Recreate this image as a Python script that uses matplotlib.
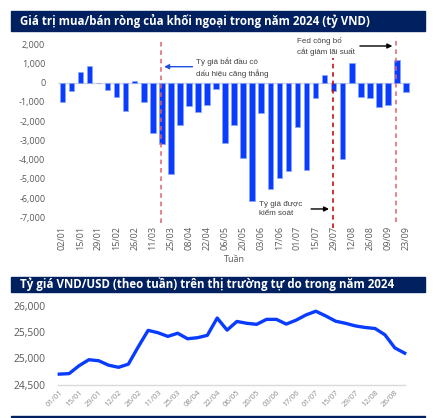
import matplotlib
matplotlib.use('Agg')
import matplotlib.pyplot as plt
from matplotlib.patches import Rectangle

plt.rcParams['font.family'] = ['Open Sans', 'DejaVu Sans']

# ---- data: chart 1 (net buy/sell of foreign investors, bn VND) ----
weeks1 = ['02/01', '08/01', '15/01', '22/01', '29/01', '05/02', '15/02', '19/02',
          '26/02', '04/03', '11/03', '18/03', '25/03', '01/04', '08/04', '15/04',
          '22/04', '29/04', '06/05', '13/05', '20/05', '27/05', '03/06', '10/06',
          '17/06', '24/06', '01/07', '08/07', '15/07', '22/07', '29/07', '05/08',
          '12/08', '19/08', '26/08', '02/09', '09/09', '16/09', '23/09']
net_flow = [-1000, -440, 575, 890, -20, -385, -750, -1480, 100, -1000,
            -2635, -3190, -4750, -2215, -1190, -1535, -1135, -315, -3160, -2180,
            -3910, -6140, -1570, -5550, -4975, -4570, -2320, -4520, -800, 400,
            -420, -3960, 1045, -750, -800, -1240, -1135, 1190, -490]

# ---- data: chart 2 (free market VND/USD rate, weekly) ----
weeks2 = ['01/01', '08/01', '15/01', '22/01', '29/01', '05/02', '12/02', '19/02',
          '26/02', '04/03', '11/03', '18/03', '25/03', '01/04', '08/04', '15/04',
          '22/04', '29/04', '06/05', '13/05', '20/05', '27/05', '03/06', '10/06',
          '17/06', '24/06', '01/07', '08/07', '15/07', '22/07', '29/07', '05/08',
          '12/08', '19/08', '26/08', '02/09']
fx_rate = [24700, 24710, 24860, 24975, 24955, 24870, 24830, 24890, 25220, 25535,
           25490, 25420, 25480, 25375, 25395, 25440, 25770, 25540, 25705, 25670,
           25650, 25745, 25745, 25655, 25730, 25830, 25900, 25810, 25710, 25670,
           25620, 25590, 25570, 25450, 25200, 25100]

navy = '#002060'
blue = '#0a3cff'
grey_txt = '#595959'
note_txt = '#404040'

W, H = 438, 418
fig = plt.figure(figsize=(W / 100, H / 100), dpi=100)

def fx(px):
    return px / W

def fy(py):
    return 1 - py / H

# title bands
fig.patches.append(Rectangle((fx(11), fy(31)), fx(414), 20 / H, transform=fig.transFigure,
                             color=navy, zorder=0))
fig.text(fx(20), fy(21), 'Giá trị mua/bán ròng của khối ngoại trong năm 2024 (tỷ VND)',
         color='white', fontsize=8.3, fontweight='bold', va='center', ha='left')
fig.patches.append(Rectangle((fx(11), fy(291.5)), fx(414), 14.5 / H, transform=fig.transFigure,
                             color=navy, zorder=0))
fig.text(fx(20), fy(284), 'Tỷ giá VND/USD (theo tuần) trên thị trường tự do trong năm 2024',
         color='white', fontsize=8.3, fontweight='bold', va='center', ha='left')
fig.patches.append(Rectangle((fx(11), fy(417.3)), fx(414), 1.2 / H, transform=fig.transFigure,
                             color=navy, zorder=0))

# ---------------- chart 1 ----------------
ax1 = fig.add_axes([fx(57.8), fy(217.3), fx(352.7), 173 / H])
x1 = list(range(len(net_flow)))
ax1.bar(x1, net_flow, width=0.62, color=blue, edgecolor='#8aa6ff', linewidth=0.5, zorder=3)
ax1.axhline(0, color='#d9d9d9', lw=1, zorder=2)
ax1.set_xlim(-0.5, len(net_flow) - 0.5)
ax1.set_ylim(-7000, 2000)
ax1.set_yticks(range(-7000, 2001, 1000))
ax1.set_yticklabels(['{:,}'.format(v) for v in range(-7000, 2001, 1000)])
ax1.set_xticks(x1[::2])
ax1.set_xticklabels(weeks1[::2], rotation=90)
ax1.tick_params(axis='both', length=0, labelsize=6.5, colors=grey_txt)
ax1.tick_params(axis='x', pad=6)
ax1.tick_params(axis='y', pad=9)
for s in ax1.spines.values():
    s.set_visible(False)
ax1.set_xlabel('Tuần', fontsize=6.5, color=grey_txt, labelpad=4)

ax1.axvline(10.9, ymin=-0.033, ymax=1.025, color='#e06070', ls=(0, (3, 2.5)), lw=1.1,
            clip_on=False, zorder=4)
ax1.axvline(29.9, ymin=-0.062, ymax=0.92, color='#c00000', ls=(0, (3, 2.5)), lw=1.1,
            clip_on=False, zorder=4)
ax1.axvline(36.85, ymin=-0.025, ymax=1.044, color='#e06070', ls=(0, (3, 2.5)), lw=1.1,
            clip_on=False, zorder=4)

ax1.annotate('', xy=(10.95, 835), xytext=(14.7, 835),
             arrowprops=dict(arrowstyle='-|>', color='#1f4fe0', lw=1, mutation_scale=7),
             annotation_clip=False)
ax1.text(14.8, 770, 'Tỷ giá bắt đầu có\ndấu hiệu căng thẳng', fontsize=5.8, color=note_txt,
         va='center', ha='left', linespacing=1.45, family=['Liberation Sans', 'DejaVu Sans'])
ax1.annotate('', xy=(36.8, 1912), xytext=(32.6, 1912),
             arrowprops=dict(arrowstyle='-|>', color='black', lw=1, mutation_scale=7),
             annotation_clip=False)
ax1.text(25.95, 1890, 'Fed công bố\ncắt giảm lãi suất', fontsize=5.8, color=note_txt,
         va='center', ha='left', linespacing=1.45, family=['Liberation Sans', 'DejaVu Sans'])
ax1.annotate('', xy=(29.8, -6567), xytext=(27.2, -6567),
             arrowprops=dict(arrowstyle='-|>', color='black', lw=1, mutation_scale=7),
             annotation_clip=False)
ax1.text(21.75, -6560, 'Tỷ giá được\nkiểm soát', fontsize=5.8, color=note_txt,
         va='center', ha='left', linespacing=1.45, family=['Liberation Sans', 'DejaVu Sans'])

# ---------------- chart 2 ----------------
ax2 = fig.add_axes([fx(57.8), fy(384.6), fx(347.4), 78.6 / H])
x2 = list(range(len(fx_rate)))
ax2.plot(x2, fx_rate, color=blue, lw=2.4, solid_joinstyle='round', clip_on=False, zorder=3)
ax2.set_xlim(-0.15, len(fx_rate) - 1 + 0.05)
ax2.set_ylim(24500, 26000)
ax2.set_yticks([24500, 25000, 25500, 26000])
ax2.set_yticklabels(['{:,}'.format(v) for v in [24500, 25000, 25500, 26000]])
ax2.set_xticks(x2[:-1:2])
ax2.set_xticklabels(weeks2[:-1:2], rotation=45, ha='right', rotation_mode='anchor')
ax2.tick_params(axis='x', length=0, labelsize=5.6, colors='#8c8c8c', pad=3)
ax2.tick_params(axis='y', length=0, labelsize=7.4, colors=grey_txt, pad=9)
for s in ['top', 'right', 'left']:
    ax2.spines[s].set_visible(False)
ax2.spines['bottom'].set_color('#d9d9d9')
ax2.spines['bottom'].set_linewidth(1)

fig.savefig('out.png', dpi=100)
